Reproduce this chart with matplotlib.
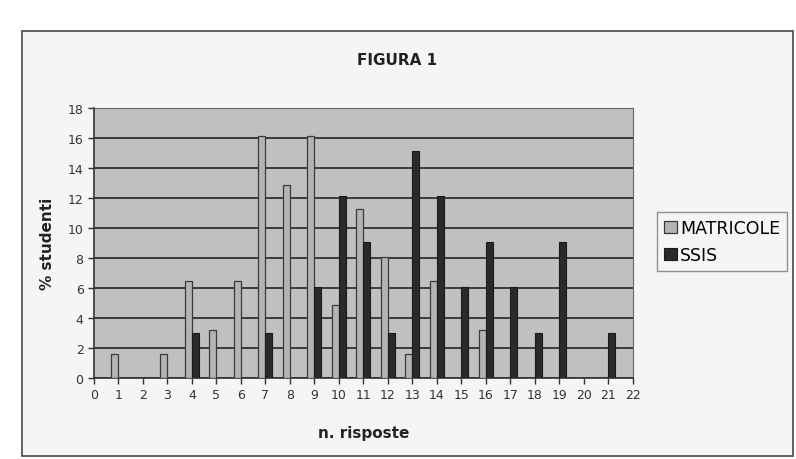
import numpy as np
import matplotlib
matplotlib.use("Agg")
import matplotlib.pyplot as plt
from matplotlib.patches import Rectangle

# numero di risposte corrette
risposte = list(range(0, 22))
# % studenti per gruppo
matricole = [0, 1.61, 0, 1.61, 6.45, 3.23, 6.45, 16.13, 12.90, 16.13, 4.84,
             11.29, 8.06, 1.61, 6.45, 0, 3.23, 0, 0, 0, 0, 0]
ssis = [0, 0, 0, 0, 3.03, 0, 0, 3.03, 0, 6.06, 12.12,
        9.09, 3.03, 15.15, 12.12, 6.06, 9.09, 6.06, 3.03, 9.09, 0, 3.03]
yticks = list(range(0, 19, 2))
xticks = list(range(0, 23))

fig = plt.figure(figsize=(7.96, 4.6), dpi=100)
fig.patch.set_facecolor("white")

# cornice dell'area del grafico
frame = Rectangle((0.028, 0.007), 0.968, 0.923, transform=fig.transFigure,
                  facecolor="#f5f5f5", edgecolor="#555555", linewidth=1.3, zorder=-10)
fig.patches.append(frame)

ax = fig.add_axes([0.118, 0.176, 0.677, 0.587])
ax.set_zorder(2)
ax.set_facecolor("#c0c0c0")

x = np.array(risposte)
w = 0.29
ax.bar(x - w / 2, matricole, width=w, color="#b4b4b4", edgecolor="#3a3a3a",
       linewidth=0.9, label="MATRICOLE", zorder=3)
ax.bar(x + w / 2, ssis, width=w, color="#2a2a2a", edgecolor="#1a1a1a",
       linewidth=0.8, label="SSIS", zorder=3)

ax.set_xlim(0, 22)
ax.set_ylim(0, 18)
ax.set_xticks(xticks)
ax.set_yticks(yticks)
ax.yaxis.grid(True, color="#303030", linewidth=1.3, zorder=1)
ax.set_axisbelow(True)
ax.tick_params(axis="both", labelsize=9, colors="#333333", length=4, width=1, direction="out")
for s in ["top", "right"]:
    ax.spines[s].set_color("#666666")
for s in ["left", "bottom"]:
    ax.spines[s].set_color("#333333")
    ax.spines[s].set_linewidth(1.2)

ax.set_xlabel("n. risposte", fontsize=11, fontweight="bold", color="#222222", labelpad=17)
ax.set_ylabel("% studenti", fontsize=11, fontweight="bold", color="#222222", labelpad=9)

fig.text(0.499, 0.868, "FIGURA 1", ha="center", va="center",
         fontsize=11, fontweight="bold", color="#222222")

leg = fig.legend(loc="center left", bbox_to_anchor=(0.815, 0.473), fontsize=12.5,
                 frameon=True, fancybox=False, handlelength=0.7, handleheight=0.7,
                 handletextpad=0.2, borderpad=0.4, labelspacing=0.5)
leg.set_zorder(5)
leg.get_frame().set_edgecolor("#777777")
leg.get_frame().set_facecolor("#f5f5f5")
leg.get_frame().set_linewidth(1)

fig.savefig("out.png", dpi=100)
